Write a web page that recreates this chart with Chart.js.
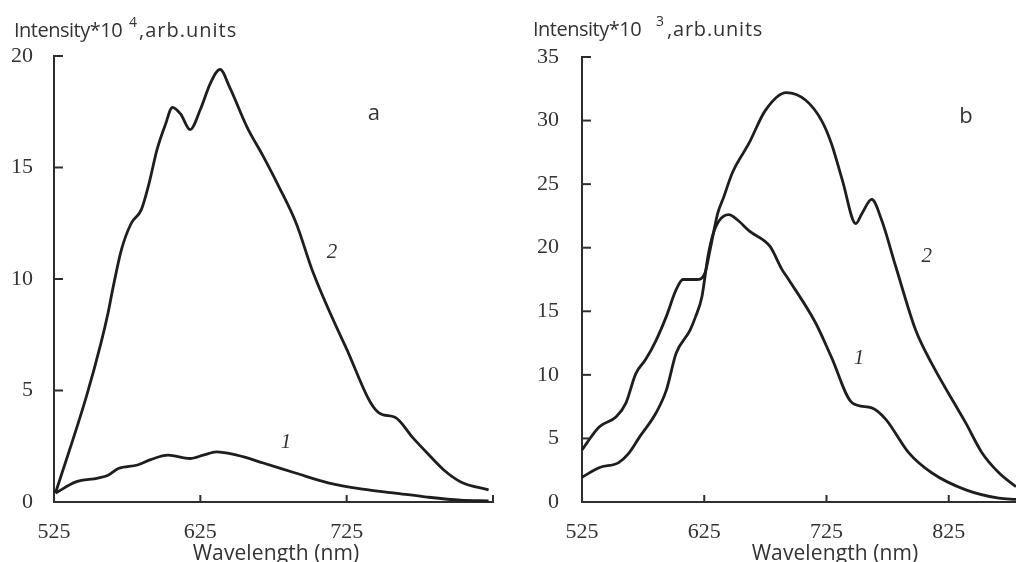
<!DOCTYPE html>
<html>
<head>
<meta charset="utf-8">
<script src="https://cdn.jsdelivr.net/npm/chart.js@4/dist/chart.umd.min.js"></script>
<style>
  html, body { margin:0; padding:0; background:#fff; }
  body { width:1016px; height:562px; position:relative; overflow:hidden; }
  #wa { position:absolute; left:0; top:0; width:510px; height:562px; }
  #wb { position:absolute; left:510px; top:0; width:506px; height:562px; }
</style>
</head>
<body>
<div id="wa"><canvas id="ca"></canvas></div>
<div id="wb"><canvas id="cb"></canvas></div>
<script>
// ---------- Panel a data ----------
const wlA1 = [526,540,555,562,569,582,591,603,618,627,636,650,668,690,713,736,758,780,803,822];
const intA1 = [0.4,0.9,1.07,1.2,1.5,1.66,1.9,2.1,1.95,2.1,2.25,2.1,1.75,1.3,0.85,0.58,0.4,0.22,0.08,0.05];
const wlA2 = [526,547,557,562,565,571,577.8,584.6,590,595.4,601,606,611.5,618,625,632,638.5,645,657,668,679,690.5,702,724,747,758,770,780,792,803,822];
const intA2 = [0.4,4.7,7.1,8.5,9.5,11.3,12.5,13.1,14.3,15.8,16.9,17.7,17.4,16.7,17.6,18.8,19.4,18.6,16.8,15.5,14.1,12.5,10.3,7.0,4.0,3.8,2.9,2.2,1.4,0.9,0.54];

// ---------- Panel b data ----------
const wlB1 = [525,539,555,563,572,585.5,594,602,613.3,618,623,628,632,637,645,652,662,678.8,688.5,694,716,729,746,762,773.5,792,811,839,866,880];
const intB1 = [1.95,2.7,3.1,3.8,5.1,7.0,8.8,11.7,13.5,14.6,16.1,19.3,21.0,22.1,22.6,22.2,21.3,20.1,18.3,17.5,14.1,11.4,7.8,7.4,6.5,3.9,2.3,0.95,0.3,0.2];
const wlB2 = [525,539,553,561,569,577,585.5,594,602,607.6,619,625.6,629.7,636,641,648,661.5,675,692,708,721,729,738,749,754,762,770,781.7,798,811,839,852,866,880];
const intB2 = [4.1,5.9,6.7,7.8,10.1,11.2,12.7,14.6,16.7,17.5,17.5,18.0,19.8,22.7,24.0,25.9,28.2,30.8,32.2,31.6,30.0,28.2,25.3,21.9,22.7,23.8,22.2,18.5,13.5,10.9,6.2,3.9,2.3,1.2];

// ---------- ticks ----------
const xTicksA = [525,625,725,825];
const xTickLabelsA = ['525','625','725',''];
const yTicksA = [0,5,10,15,20];
const xTicksB = [525,625,725,825];
const xTickLabelsB = ['525','625','725','825'];
const yTicksB = [0,5,10,15,20,25,30,35];

// ---------- annotations (data coords) ----------
const curveLabelsA = [{text:'2', x:715, y:11.2}, {text:'1', x:683.5, y:2.65}];
const panelLetterA = {text:'a', x:743.5, y:17.4};
const curveLabelsB = [{text:'2', x:807, y:19.3}, {text:'1', x:751.5, y:11.25}];
const panelLetterB = {text:'b', x:839, y:30.3};

const INK = '#1e1e1e';
const AXIS = '#2e2e2e';
const TXT = '#333333';
const SERIF = '"Liberation Serif", "DejaVu Serif", serif';
const SANS = '"Open Sans", "Noto Sans", sans-serif';

function pts(xs, ys) { return xs.map((v, i) => ({x: v, y: ys[i]})); }

const decor = {
  id: 'decor',
  afterDraw(chart, args, o) {
    const {ctx, chartArea: ca, scales: {x, y}} = chart;
    ctx.save();
    ctx.strokeStyle = AXIS; ctx.lineWidth = 2;
    y.ticks.forEach(t => {
      const py = y.getPixelForValue(t.value);
      ctx.beginPath(); ctx.moveTo(ca.left, py); ctx.lineTo(ca.left + 9, py); ctx.stroke();
    });
    x.ticks.forEach(t => {
      const px = x.getPixelForValue(t.value);
      ctx.beginPath(); ctx.moveTo(px, ca.bottom); ctx.lineTo(px, ca.bottom - 7); ctx.stroke();
    });
    ctx.fillStyle = TXT;
    // y title with superscript
    const yt = o.yTitle;
    ctx.textAlign = 'left'; ctx.textBaseline = 'alphabetic';
    ctx.letterSpacing = '-0.5px';
    ctx.font = '20px ' + SANS;
    ctx.fillText(yt.main, yt.x, yt.y);
    ctx.letterSpacing = '0px';
    ctx.font = '14px ' + SANS;
    ctx.fillText(yt.sup, yt.supX, yt.y - 10);
    ctx.letterSpacing = yt.restSpacing;
    ctx.font = '20px ' + SANS;
    ctx.fillText(yt.rest, yt.restX, yt.y);
    // x title
    ctx.textAlign = 'center';
    ctx.letterSpacing = '0.1px';
    ctx.font = '21px ' + SANS;
    ctx.fillText(o.xTitle.text, o.xTitle.x, o.xTitle.y);
    ctx.letterSpacing = '0px';
    // panel letter
    ctx.textBaseline = 'middle';
    ctx.font = '22px ' + SANS;
    ctx.fillText(o.letter.text, x.getPixelForValue(o.letter.x), y.getPixelForValue(o.letter.y));
    // curve labels
    ctx.font = 'italic 21px ' + SERIF;
    o.curveLabels.forEach(l => {
      ctx.fillText(l.text, x.getPixelForValue(l.x), y.getPixelForValue(l.y));
    });
    ctx.restore();
  }
};

function makeChart(id, cfg) {
  return new Chart(document.getElementById(id), {
    type: 'scatter',
    data: {
      datasets: cfg.series.map(s => ({
        data: pts(s[0], s[1]),
        showLine: true,
        borderColor: INK,
        borderWidth: 2.8,
        pointRadius: 0,
        fill: false,
        cubicInterpolationMode: 'monotone',
        tension: 0.4,
        clip: 4
      }))
    },
    options: {
      responsive: true,
      maintainAspectRatio: false,
      animation: false,
      events: [],
      layout: { padding: cfg.padding },
      plugins: {
        legend: { display: false },
        tooltip: { enabled: false },
        decor: cfg.decor
      },
      scales: {
        x: {
          type: 'linear',
          min: cfg.xMin, max: cfg.xMax,
          afterBuildTicks: s => { s.ticks = cfg.xTicks.map(v => ({value: v})); },
          afterFit: s => { s.height = 60; },
          grid: { display: false, drawTicks: false },
          border: { display: true, color: AXIS, width: 2 },
          ticks: {
            autoSkip: false, maxRotation: 0, padding: 17,
            color: TXT, font: { family: SERIF, size: 22 },
            callback: (v) => { const i = cfg.xTicks.indexOf(v); return i >= 0 ? cfg.xLabels[i] : ''; }
          }
        },
        y: {
          type: 'linear',
          min: 0, max: cfg.yMax,
          afterBuildTicks: s => { s.ticks = cfg.yTicks.map(v => ({value: v})); },
          afterFit: s => { s.width = cfg.yWidth; },
          grid: { display: false, drawTicks: false },
          border: { display: true, color: AXIS, width: 2 },
          ticks: {
            autoSkip: false, padding: cfg.yPad,
            color: TXT, font: { family: SERIF, size: 22 },
            callback: (v) => String(v)
          }
        }
      }
    },
    plugins: [decor]
  });
}

makeChart('ca', {
  series: [[wlA1, intA1], [wlA2, intA2]],
  xMin: 525, xMax: 825, yMax: 20,
  xTicks: xTicksA, xLabels: xTickLabelsA, yTicks: yTicksA,
  yWidth: 54, yPad: 21,
  padding: { top: 56, right: 13, bottom: 0, left: 0 },
  decor: {
    yTitle: { main: 'Intensity*10', sup: '4', rest: ',arb.units', x: 14, y: 37, supX: 129, restX: 139, restSpacing: '1px' },
    xTitle: { text: 'Wavelength (nm)', x: 276, y: 560 },
    letter: panelLetterA,
    curveLabels: curveLabelsA
  }
});

makeChart('cb', {
  series: [[wlB1, intB1], [wlB2, intB2]],
  xMin: 525, xMax: 880, yMax: 35,
  xTicks: xTicksB, xLabels: xTickLabelsB, yTicks: yTicksB,
  yWidth: 72, yPad: 23,
  padding: { top: 57, right: 0, bottom: 0, left: 0 },
  decor: {
    yTitle: { main: 'Intensity*10', sup: '3', rest: ',arb.units', x: 23, y: 36, supX: 146, restX: 157, restSpacing: '0.8px' },
    xTitle: { text: 'Wavelength (nm)', x: 325, y: 560 },
    letter: panelLetterB,
    curveLabels: curveLabelsB
  }
});
</script>
</body>
</html>
